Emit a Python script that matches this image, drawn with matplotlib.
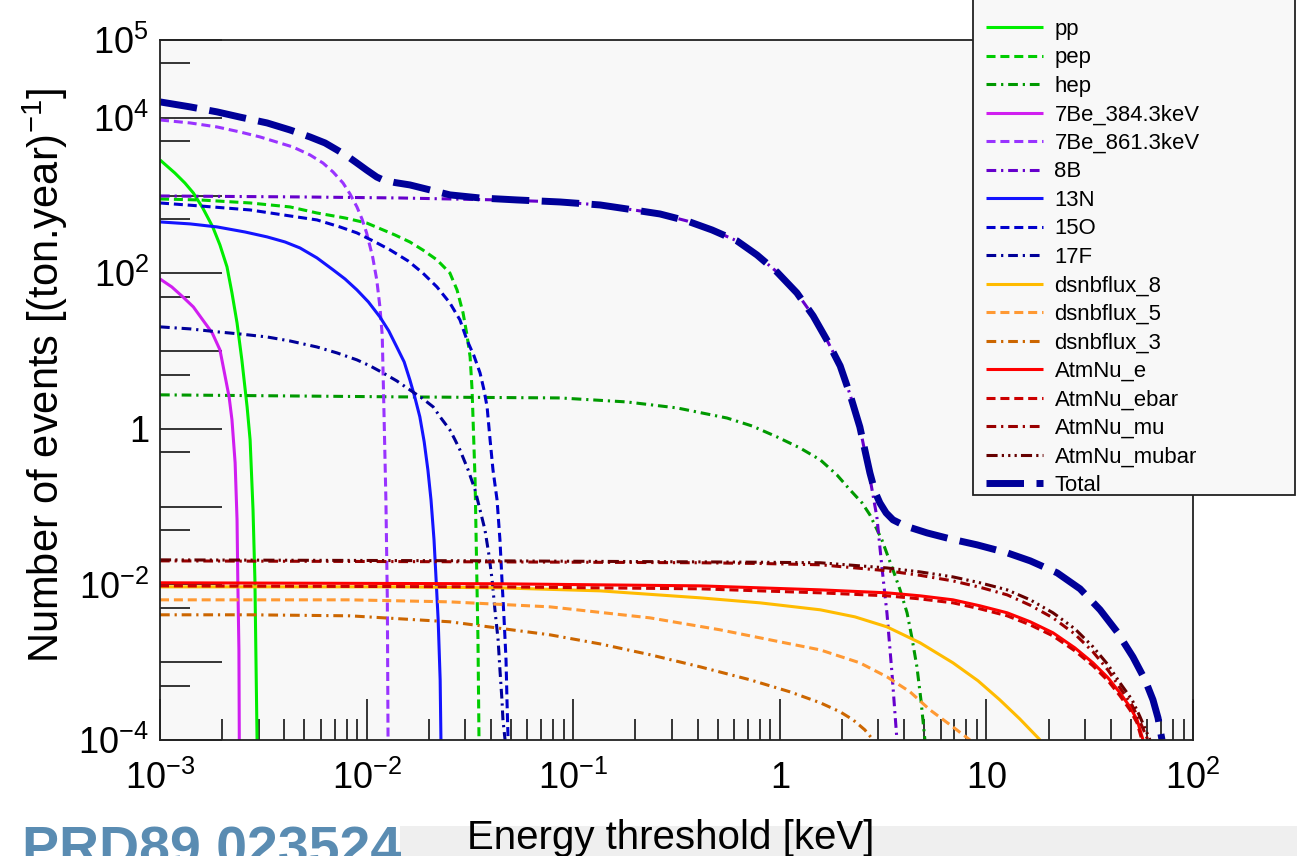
import numpy as np
import matplotlib
matplotlib.use('Agg')
import matplotlib.pyplot as plt
from matplotlib.ticker import FixedLocator, FixedFormatter, LogLocator, NullFormatter
from matplotlib.patches import Rectangle

plt.rcParams['font.family'] = ['Liberation Sans', 'DejaVu Sans']
plt.rcParams['mathtext.fontset'] = 'custom'
plt.rcParams['mathtext.rm'] = 'Liberation Sans'
plt.rcParams['mathtext.it'] = 'Liberation Sans:italic'
plt.rcParams['mathtext.bf'] = 'Liberation Sans:bold'
plt.rcParams['lines.scale_dashes'] = False

# energy threshold [keV] / number of events [(ton.year)^-1]
pp_E = [1.0e-3, 1.18e-3, 1.32e-3, 1.45e-3, 1.61e-3, 1.80e-3, 1.95e-3, 2.11e-3, 2.23e-3, 2.36e-3,
        2.49e-3, 2.64e-3, 2.73e-3, 2.82e-3, 2.88e-3, 2.91e-3, 2.95e-3]
pp_N = [2870, 1950, 1450, 1080, 693, 395, 232, 121, 56.0, 23.0,
        7.71, 1.92, 0.722, 0.091, 0.0115, 1.44e-3, 1e-4]

pep_E = [1.0e-3, 1.56e-3, 2.73e-3, 4.26e-3, 5.75e-3, 7.86e-3, 1.00e-2, 1.37e-2, 1.62e-2, 1.87e-2,
         2.19e-2, 2.53e-2, 2.74e-2, 2.93e-2, 3.06e-2, 3.17e-2, 3.24e-2, 3.35e-2, 3.46e-2, 3.50e-2]
pep_N = [904, 878, 803, 714, 597, 515, 444, 312, 253, 200,
         149, 101, 61.2, 31.0, 16.2, 8.42, 3.17, 0.221, 1.94e-3, 1e-4]

hep_E = [1.0e-3, 1.45e-2, 8.63e-2, 0.182, 0.318, 0.555, 0.734, 0.969, 1.25, 1.57,
         1.89, 2.19, 2.50, 2.73, 3.12, 3.53, 3.82, 4.13, 4.36, 4.61, 4.82, 5.04]
hep_N = [2.74, 2.58, 2.50, 2.22, 1.86, 1.38, 1.09, 0.789, 0.570, 0.400,
         0.256, 0.164, 0.112, 0.0785, 0.0374, 0.0154, 8.52e-3, 4.32e-3, 2.06e-3, 8.73e-4, 3.29e-4, 1e-4]

be384_E = [1.0e-3, 1.14e-3, 1.29e-3, 1.45e-3, 1.61e-3, 1.79e-3, 1.95e-3, 2.06e-3, 2.16e-3, 2.23e-3,
           2.31e-3, 2.36e-3, 2.38e-3, 2.41e-3, 2.42e-3]
be384_N = [84.7, 66.9, 49.8, 37.0, 25.2, 17.1, 10.4, 4.94, 2.58, 1.31,
           0.366, 0.0677, 0.0115, 1.44e-3, 1e-4]

be861_E = [1.0e-3, 1.40e-3, 1.89e-3, 2.44e-3, 3.05e-3, 4.40e-3, 5.32e-3, 6.15e-3, 6.88e-3, 7.69e-3,
           8.31e-3, 8.98e-3, 9.50e-3, 1.00e-2, 1.07e-2, 1.12e-2, 1.16e-2, 1.19e-2, 1.21e-2, 1.24e-2,
           1.26e-2, 1.27e-2]
be861_N = [9370, 8580, 7620, 6570, 5670, 4210, 3330, 2620, 2010, 1450,
           1050, 714, 500, 331, 162, 82.3, 37.0, 16.2, 2.36, 0.122,
           6.34e-3, 1e-4]

b8_E = [1.0e-3, 4.76e-3, 1.45e-2, 2.53e-2, 4.42e-2, 8.63e-2, 0.135, 0.182, 0.263, 0.355,
        0.470, 0.621, 0.776, 0.969, 1.21, 1.45, 1.69, 1.96, 2.19, 2.44,
        2.58, 2.73, 2.95, 3.12, 3.30, 3.49, 3.69]
b8_N = [988, 960, 931, 904, 878, 827, 757, 673, 580, 472,
        361, 261, 172, 104, 56.0, 28.4, 13.9, 6.45, 2.74, 1.06,
        0.506, 0.235, 0.0739, 0.0168, 4.32e-3, 7.31e-4, 1e-4]

n13_E = [1.0e-3, 1.40e-3, 1.89e-3, 2.58e-3, 3.30e-3, 4.03e-3, 4.76e-3, 5.75e-3, 6.88e-3, 7.86e-3,
         8.98e-3, 1.02e-2, 1.16e-2, 1.28e-2, 1.40e-2, 1.52e-2, 1.62e-2, 1.71e-2, 1.81e-2, 1.90e-2,
         1.98e-2, 2.05e-2, 2.12e-2, 2.17e-2, 2.22e-2, 2.27e-2, 2.29e-2]
n13_N = [458, 432, 395, 340, 294, 253, 212, 158, 111, 84.7,
         61.2, 42.9, 27.5, 18.2, 11.3, 7.26, 4.26, 2.58, 1.43, 0.681,
         0.297, 0.122, 0.0374, 0.0115, 3.51e-3, 5.94e-4, 1e-4]

o15_E = [1.0e-3, 1.56e-3, 2.73e-3, 4.26e-3, 5.75e-3, 7.43e-3, 8.98e-3, 1.10e-2, 1.30e-2, 1.59e-2,
         1.87e-2, 2.19e-2, 2.53e-2, 2.83e-2, 3.06e-2, 3.31e-2, 3.54e-2, 3.70e-2, 3.83e-2, 3.96e-2,
         4.09e-2, 4.28e-2, 4.42e-2, 4.52e-2, 4.63e-2, 4.73e-2, 4.78e-2, 4.84e-2]
o15_N = [803, 735, 653, 547, 486, 395, 331, 253, 200, 144,
         101, 66.9, 41.6, 25.2, 13.9, 8.68, 5.25, 3.17, 1.92, 0.722,
         0.297, 0.122, 0.0374, 0.0115, 3.51e-3, 1.07e-3, 3.29e-4, 1e-4]

f17_E = [1.0e-3, 1.40e-3, 1.89e-3, 2.44e-3, 3.30e-3, 4.26e-3, 5.75e-3, 7.19e-3, 8.98e-3, 1.04e-2,
         1.20e-2, 1.40e-2, 1.62e-2, 1.85e-2, 2.10e-2, 2.29e-2, 2.53e-2, 2.68e-2, 2.83e-2, 3.10e-2,
         3.35e-2, 3.54e-2, 3.74e-2, 3.91e-2, 4.05e-2, 4.18e-2, 4.33e-2, 4.42e-2, 4.52e-2, 4.57e-2,
         4.68e-2]
f17_N = [20.5, 19.3, 17.7, 16.6, 15.2, 13.5, 11.3, 9.48, 7.71, 6.45,
         5.25, 4.14, 3.17, 2.50, 1.92, 1.38, 0.971, 0.722, 0.537, 0.297,
         0.164, 0.0910, 0.0503, 0.0240, 0.0115, 4.72e-3, 1.94e-3, 7.99e-4, 3.29e-4, 1.82e-4,
         1e-4]

dsnb8_E = [1.0e-3, 1.45e-2, 4.42e-2, 0.135, 0.411, 0.802, 1.57, 2.31, 3.30, 4.77,
           6.89, 9.11, 11.6, 14.5, 18.2]
dsnb8_N = [9.31e-3, 9.31e-3, 9.04e-3, 8.27e-3, 6.73e-3, 5.80e-3, 4.72e-3, 3.83e-3, 2.85e-3, 1.78e-3,
           9.82e-4, 5.77e-4, 3.29e-4, 1.87e-4, 1e-4]

dsnb5_E = [1.0e-3, 8.31e-3, 2.53e-2, 7.72e-2, 0.235, 0.514, 1.00, 1.57, 2.44, 3.30,
           4.27, 5.33, 6.67, 8.33]
dsnb5_N = [6.34e-3, 6.34e-3, 5.97e-3, 5.15e-3, 3.72e-3, 2.61e-3, 1.83e-3, 1.44e-3, 9.82e-4, 6.49e-4,
           4.16e-4, 2.44e-4, 1.57e-4, 1e-4]

dsnb3_E = [1.0e-3, 2.73e-3, 8.31e-3, 2.53e-2, 7.72e-2, 0.135, 0.235, 0.411, 0.718, 1.12,
           1.57, 1.96, 2.26, 2.58, 2.83]
dsnb3_N = [4.07e-3, 4.07e-3, 3.95e-3, 3.31e-3, 2.25e-3, 1.72e-3, 1.25e-3, 8.73e-4, 5.94e-4, 4.16e-4,
           3.01e-4, 2.30e-4, 1.82e-4, 1.35e-4, 1e-4]

atm_e_E = [1.0e-3, 4.42e-2, 0.135, 0.411, 0.802, 1.57, 3.30, 4.77, 6.89, 9.31,
           12.6, 16.3, 21.0, 26.8, 32.8, 38.8, 44.3, 49.5, 53.6, 57.3]
atm_e_N = [0.0105, 0.0102, 9.88e-3, 9.59e-3, 9.04e-3, 8.52e-3, 7.80e-3, 7.14e-3, 6.34e-3, 5.31e-3,
           4.32e-3, 3.31e-3, 2.39e-3, 1.53e-3, 9.82e-4, 6.30e-4, 4.04e-4, 2.67e-4, 1.82e-4, 1e-4]

atm_ebar_E = [1.0e-3, 4.42e-2, 0.135, 0.411, 0.802, 1.57, 3.30, 4.77, 6.89, 9.31,
              12.6, 16.3, 21.0, 26.8, 32.8, 38.8, 44.3, 49.5, 53.6, 56.6]
atm_ebar_N = [9.59e-3, 9.31e-3, 9.04e-3, 8.78e-3, 8.27e-3, 7.80e-3, 7.14e-3, 6.52e-3, 5.80e-3, 4.86e-3,
              3.95e-3, 3.02e-3, 2.18e-3, 1.40e-3, 8.99e-4, 5.76e-4, 3.70e-4, 2.44e-4, 1.66e-4, 1e-4]

atm_mu_E = [1.0e-3, 4.42e-2, 0.411, 0.802, 1.57, 3.30, 4.77, 6.89, 9.31, 12.6,
            16.3, 21.0, 26.8, 32.8, 38.8, 44.3, 50.7, 55.4, 60.5]
atm_mu_N = [0.0201, 0.0195, 0.0190, 0.0186, 0.0179, 0.0150, 0.0131, 0.0111, 9.20e-3, 7.35e-3,
            5.40e-3, 3.72e-3, 2.30e-3, 1.36e-3, 7.90e-4, 4.69e-4, 2.80e-4, 1.72e-4, 1e-4]

atm_mubar_E = [1.0e-3, 4.42e-2, 0.411, 0.802, 1.57, 3.30, 4.77, 6.89, 9.31, 12.6,
               16.3, 21.0, 26.8, 32.8, 38.8, 44.3, 50.7, 55.4, 61.9]
atm_mubar_N = [0.0207, 0.0201, 0.0195, 0.0193, 0.0190, 0.0163, 0.0145, 0.0125, 0.0105, 8.52e-3,
               6.34e-3, 4.32e-3, 2.69e-3, 1.58e-3, 9.26e-4, 5.43e-4, 3.29e-4, 1.99e-4, 1e-4]

total_E = [1.0e-3, 1.40e-3, 1.89e-3, 2.44e-3, 3.30e-3, 4.26e-3, 5.32e-3, 6.29e-3, 7.19e-3, 8.04e-3,
           8.98e-3, 1.00e-2, 1.12e-2, 1.20e-2, 1.37e-2, 1.62e-2, 2.03e-2, 2.53e-2, 3.54e-2, 5.35e-2,
           8.63e-2, 0.135, 0.182, 0.263, 0.355, 0.470, 0.621, 0.776, 0.969, 1.21,
           1.45, 1.69, 1.96, 2.19, 2.44, 2.58, 2.73, 2.89, 3.05, 3.27,
           3.53, 4.04, 5.16, 6.67, 9.01, 12.6, 16.3, 22.0, 28.4, 35.5,
           42.9, 51.2, 58.6, 64.0, 67.7, 70.8]
total_N = [1.60e4, 1.38e4, 1.19e4, 1.02e4, 8.58e3, 6.97e3, 5.67e3, 4.75e3, 3.86e3, 3.23e3,
           2.62e3, 2.13e3, 1.73e3, 1.59e3, 1.47e3, 1.37e3, 1.18e3, 1.02e3, 931, 878,
           827, 757, 673, 580, 472, 361, 261, 172, 104, 56.0,
           28.4, 13.9, 6.45, 2.74, 1.06, 0.537, 0.272, 0.155, 0.112, 0.0832,
           0.0677, 0.0566, 0.0460, 0.0386, 0.0323, 0.0255, 0.0201, 0.0141, 8.78e-3, 4.72e-3,
           2.46e-3, 1.17e-3, 5.94e-4, 3.29e-4, 1.93e-4, 1e-4]

x_ticks = [1e-3, 1e-2, 1e-1, 1, 10, 100]
x_labels = [r'$10^{-3}$', r'$10^{-2}$', r'$10^{-1}$', r'$1$', r'$10$', r'$10^{2}$']
y_ticks = [1e-4, 1e-3, 1e-2, 1e-1, 1, 10, 100, 1e3, 1e4, 1e5]
y_labels = [r'$10^{-4}$', '', r'$10^{-2}$', '', r'$1$', '', r'$10^{2}$', '', r'$10^{4}$', r'$10^{5}$']

# line styles (points)
solid = '-'
dash = (0, (6.5, 3.5))
dashdot = (0, (7, 3.5, 1.6, 3.5))
dashdotdot = (0, (8, 3, 1.6, 3, 1.6, 3, 1.6, 3))
longdash = (0, (27, 9))

series = [
    ('pp', pp_E, pp_N, '#00ee00', solid, 2.2),
    ('pep', pep_E, pep_N, '#00cc00', dash, 2.2),
    ('hep', hep_E, hep_N, '#009900', dashdot, 2.2),
    ('7Be_384.3keV', be384_E, be384_N, '#d01ef0', solid, 2.2),
    ('7Be_861.3keV', be861_E, be861_N, '#9933ff', dash, 2.2),
    ('8B', b8_E, b8_N, '#6600cc', dashdot, 2.2),
    ('13N', n13_E, n13_N, '#1414ff', solid, 2.2),
    ('15O', o15_E, o15_N, '#0000cc', dash, 2.2),
    ('17F', f17_E, f17_N, '#000099', dashdot, 2.2),
    ('dsnbflux_8', dsnb8_E, dsnb8_N, '#ffbb00', solid, 2.2),
    ('dsnbflux_5', dsnb5_E, dsnb5_N, '#ff9933', dash, 2.2),
    ('dsnbflux_3', dsnb3_E, dsnb3_N, '#cc6600', dashdot, 2.2),
    ('AtmNu_e', atm_e_E, atm_e_N, '#ff0000', solid, 2.2),
    ('AtmNu_ebar', atm_ebar_E, atm_ebar_N, '#cc0000', dash, 2.2),
    ('AtmNu_mu', atm_mu_E, atm_mu_N, '#990000', dashdot, 2.2),
    ('AtmNu_mubar', atm_mubar_E, atm_mubar_N, '#660000', dashdotdot, 2.2),
    ('Total', total_E, total_N, '#000099', longdash, 5.0),
]

W, H = 1297, 856
fig = plt.figure(figsize=(W / 100, H / 100), dpi=100)
fig.patch.set_facecolor('white')
ax = fig.add_axes([160 / W, 116 / H, 1033 / W, 700 / H])
ax.set_facecolor('#f8f8f8')

handles = []
for lab, E, N, col, ls, lw in series:
    ln, = ax.plot(E, N, color=col, linestyle=ls, linewidth=lw, label=lab,
                  solid_capstyle='butt', dash_capstyle='butt', solid_joinstyle='round')
    handles.append(ln)

ax.set_xscale('log')
ax.set_yscale('log')
ax.set_xlim(1e-3, 1e2)
ax.set_ylim(1e-4, 1e5)

ax.xaxis.set_major_locator(FixedLocator(x_ticks))
ax.xaxis.set_major_formatter(FixedFormatter(x_labels))
ax.xaxis.set_minor_locator(LogLocator(base=10, subs=np.arange(2, 10), numticks=30))
ax.xaxis.set_minor_formatter(NullFormatter())
ax.yaxis.set_major_locator(FixedLocator(y_ticks))
ax.yaxis.set_major_formatter(FixedFormatter(y_labels))
ax.yaxis.set_minor_locator(LogLocator(base=10, subs=[5.0], numticks=30))
ax.yaxis.set_minor_formatter(NullFormatter())

ax.tick_params(which='both', direction='in', top=False, right=False, width=1.1, color='black',
               labelsize=26)
ax.tick_params(axis='x', which='major', length=29.5, pad=15)
ax.tick_params(axis='x', which='minor', length=15)
ax.tick_params(axis='y', which='major', length=44.6, pad=8)
ax.tick_params(axis='y', which='minor', length=21.6)
for sp in ax.spines.values():
    sp.set_linewidth(1.3)
    sp.set_color('#222222')

fig.text(45 / W, 1 - 375 / H, r'Number of events [(ton.year)$^{-1}$]', rotation=90,
         ha='center', va='center', fontsize=30)
fig.text(671 / W, 1 - 838 / H, 'Energy threshold [keV]', ha='center', va='center',
         fontsize=29)

# slide footer
fig.patches.append(Rectangle((400 / W, 0), 1 - 400 / W, 30 / H, transform=fig.transFigure,
                             facecolor='#efefef', edgecolor='none', zorder=-1))
fig.text(22 / W, -10 / H, 'PRD89 023524', fontsize=40, fontweight='bold', color='#5a8cb2',
         ha='left', va='baseline')

# legend box (its top runs off the picture) and entries
fig.patches.append(Rectangle((973 / W, (H - 495) / H), (1295 - 973) / W, 1.0,
                             transform=fig.transFigure, facecolor='#f8f8f8',
                             edgecolor='#222222', linewidth=1.3, zorder=4))
leg = fig.legend(handles=handles, loc='lower left',
                 bbox_to_anchor=(986 / W, (H - 496) / H),
                 bbox_transform=fig.transFigure, borderaxespad=0, borderpad=0,
                 fontsize=15.9, labelspacing=0.34, handlelength=2.6, handletextpad=0.5,
                 frameon=False)
leg.set_zorder(5)

fig.savefig('out.png', dpi=100)
